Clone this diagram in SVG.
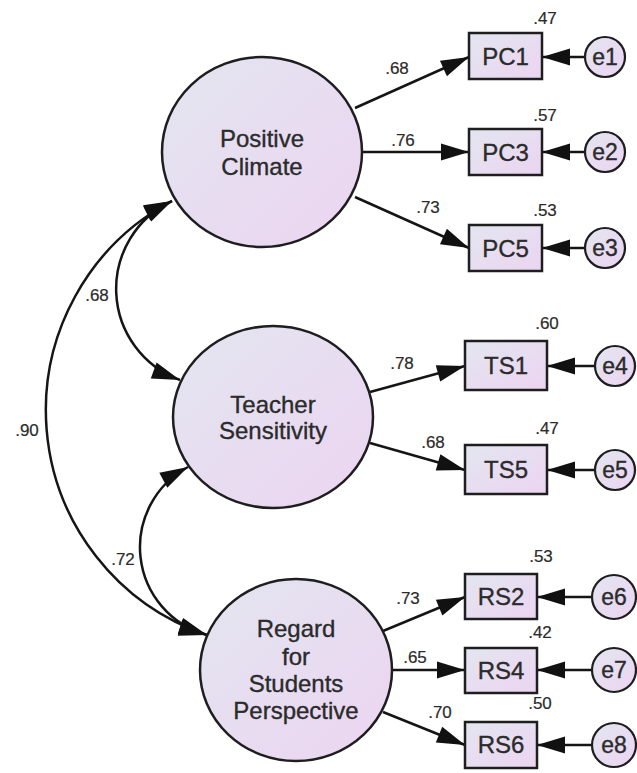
<svg xmlns="http://www.w3.org/2000/svg" width="637" height="773" viewBox="0 0 637 773">
<defs>
<linearGradient id="fillg" x1="0" y1="0" x2="1" y2="1">
<stop offset="0" stop-color="#e3e6f0"/>
<stop offset="1" stop-color="#ecd4f1"/>
</linearGradient>
<marker id="ah" markerUnits="userSpaceOnUse" markerWidth="30" markerHeight="20" viewBox="-29 -10 30 20" refX="0" refY="0" orient="auto-start-reverse">
<path d="M0,0 L-28,-8.5 L-28,8.5 Z" fill="#111"/>
</marker>
<style>
.lat{fill:url(#fillg);stroke:#1e1e1e;stroke-width:2.5}
.obs{fill:url(#fillg);stroke:#1e1e1e;stroke-width:2.5}
.err{fill:url(#fillg);stroke:#1e1e1e;stroke-width:2.2}
.conn path,.conn line{fill:none;stroke:#151515;stroke-width:2.5;marker-end:url(#ah)}
.conn .cov{marker-start:url(#ah)}
text{font-family:"Liberation Sans",Arial,sans-serif;fill:#2b2b2b;text-anchor:middle;stroke:#2b2b2b;stroke-width:0.35}
.lt{font-size:24px}
.ot{font-size:24px}
.et{font-size:23px}
.num{font-size:17px;stroke-width:0.2}
</style>
</defs>
<rect width="637" height="773" fill="#ffffff"/>

<g id="connectors" class="conn">
<line x1="355" y1="108" x2="469" y2="57"/>
<line x1="363" y1="152" x2="469" y2="152"/>
<line x1="355" y1="197" x2="469" y2="248"/>
<line x1="370" y1="392" x2="465" y2="366"/>
<line x1="370" y1="443" x2="465" y2="470"/>
<line x1="383" y1="631" x2="465" y2="597"/>
<line x1="393" y1="670" x2="465" y2="670"/>
<line x1="383" y1="712" x2="465" y2="745"/>
<line x1="585" y1="57" x2="542" y2="57"/>
<line x1="585" y1="152" x2="542" y2="152"/>
<line x1="585" y1="248" x2="542" y2="248"/>
<line x1="595" y1="366" x2="547" y2="366"/>
<line x1="595" y1="470" x2="547" y2="470"/>
<line x1="592" y1="597" x2="537" y2="597"/>
<line x1="592" y1="670" x2="537" y2="670"/>
<line x1="592" y1="745" x2="537" y2="745"/>
<path class="cov" d="M172,201 A97,97 0 0,0 180,380"/>
<path class="cov" d="M172,201 A237,237 0 0,0 207,635"/>
<path class="cov" d="M188,467 A91,91 0 0,0 207,635"/>
</g>

<g id="labels">
<text class="num" x="97" y="301">.68</text>
<text class="num" x="27" y="436">.90</text>
<text class="num" x="123" y="565">.72</text>
<text class="num" x="397" y="74">.68</text>
<text class="num" x="403" y="146">.76</text>
<text class="num" x="428" y="213">.73</text>
<text class="num" x="402" y="369">.78</text>
<text class="num" x="433" y="448">.68</text>
<text class="num" x="408" y="604">.73</text>
<text class="num" x="415" y="663">.65</text>
<text class="num" x="440" y="718">.70</text>
<text class="num" x="545" y="24">.47</text>
<text class="num" x="545" y="121">.57</text>
<text class="num" x="545" y="216">.53</text>
<text class="num" x="547" y="329">.60</text>
<text class="num" x="547" y="434">.47</text>
<text class="num" x="541" y="562">.53</text>
<text class="num" x="540" y="638">.42</text>
<text class="num" x="540" y="709">.50</text>
</g>

<g id="positive-climate">
<ellipse class="lat" cx="262" cy="152" rx="100" ry="95"/>
<text class="lt" x="262" y="147">Positive</text>
<text class="lt" x="262" y="175">Climate</text>
</g>
<g id="teacher-sensitivity">
<ellipse class="lat" cx="273" cy="417" rx="100" ry="91"/>
<text class="lt" x="273" y="413">Teacher</text>
<text class="lt" x="273" y="439">Sensitivity</text>
</g>
<g id="regard-students">
<ellipse class="lat" cx="296" cy="670" rx="96" ry="91"/>
<text class="lt" x="296" y="637">Regard</text>
<text class="lt" x="296" y="665">for</text>
<text class="lt" x="296" y="692">Students</text>
<text class="lt" x="296" y="719">Perspective</text>
</g>

<g id="PC1"><rect class="obs" x="469" y="33" width="73" height="46"/><text class="ot" x="505.5" y="64.5">PC1</text></g>
<g id="PC3"><rect class="obs" x="469" y="129" width="73" height="46"/><text class="ot" x="505.5" y="160.5">PC3</text></g>
<g id="PC5"><rect class="obs" x="469" y="225" width="73" height="46"/><text class="ot" x="505.5" y="256.5">PC5</text></g>
<g id="TS1"><rect class="obs" x="465" y="341" width="82" height="49"/><text class="ot" x="506" y="374">TS1</text></g>
<g id="TS5"><rect class="obs" x="465" y="445" width="82" height="49"/><text class="ot" x="506" y="478">TS5</text></g>
<g id="RS2"><rect class="obs" x="465" y="574" width="72" height="45"/><text class="ot" x="501" y="605">RS2</text></g>
<g id="RS4"><rect class="obs" x="465" y="648" width="72" height="45"/><text class="ot" x="501" y="679">RS4</text></g>
<g id="RS6"><rect class="obs" x="465" y="722" width="72" height="46"/><text class="ot" x="501" y="753">RS6</text></g>

<g id="e1"><circle class="err" cx="605" cy="57" r="20"/><text class="et" x="605" y="65">e1</text></g>
<g id="e2"><circle class="err" cx="605" cy="152" r="20"/><text class="et" x="605" y="160">e2</text></g>
<g id="e3"><circle class="err" cx="605" cy="248" r="20"/><text class="et" x="605" y="256">e3</text></g>
<g id="e4"><circle class="err" cx="615" cy="366" r="20"/><text class="et" x="615" y="374">e4</text></g>
<g id="e5"><circle class="err" cx="615" cy="470" r="20"/><text class="et" x="615" y="478">e5</text></g>
<g id="e6"><circle class="err" cx="614" cy="597" r="22"/><text class="et" x="614" y="605">e6</text></g>
<g id="e7"><circle class="err" cx="614" cy="670" r="22"/><text class="et" x="614" y="678">e7</text></g>
<g id="e8"><circle class="err" cx="614" cy="745" r="22"/><text class="et" x="614" y="753">e8</text></g>
</svg>
